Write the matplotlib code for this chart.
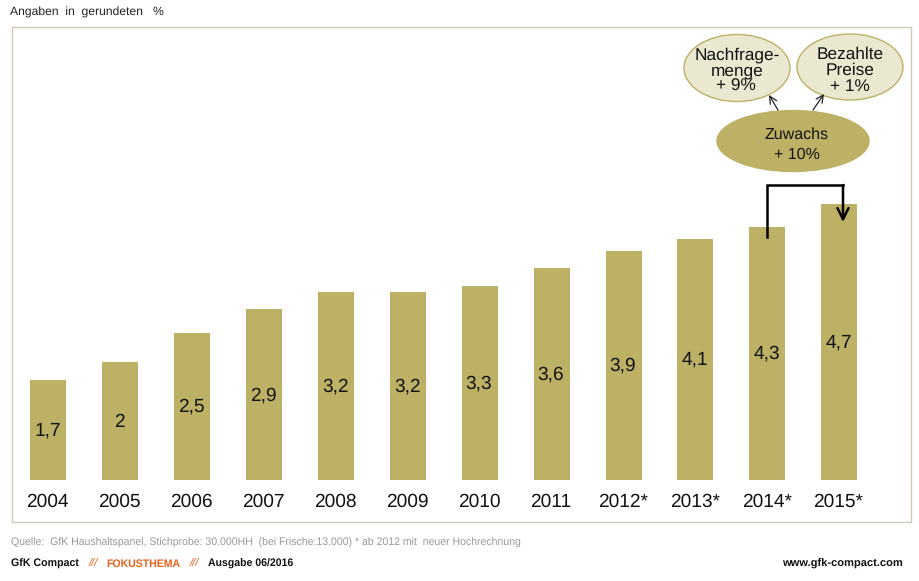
import matplotlib
matplotlib.use('Agg')
import matplotlib.pyplot as plt
from matplotlib.patches import Ellipse, Rectangle

years = ['2004', '2005', '2006', '2007', '2008', '2009', '2010', '2011',
         '2012*', '2013*', '2014*', '2015*']
values = [1.7, 2.0, 2.5, 2.9, 3.2, 3.2, 3.3, 3.6, 3.9, 4.1, 4.3, 4.7]
value_labels = ['1,7', '2', '2,5', '2,9', '3,2', '3,2', '3,3', '3,6', '3,9', '4,1', '4,3', '4,7']

W, H = 919, 581
BAR = '#bcb165'
LIGHT = '#ebe8d2'
FRAME = '#d2c9bc'
ORANGE = '#e8601c'
INK = '#111111'

plt.rcParams['font.family'] = ['Liberation Sans', 'DejaVu Sans']
plt.rcParams['text.hinting'] = 'no_hinting'

fig = plt.figure(figsize=(W / 100, H / 100), dpi=100)

# frame behind everything
back = fig.add_axes([0, 0, 1, 1])
back.set_xlim(0, W)
back.set_ylim(H, 0)
back.axis('off')
back.add_patch(Rectangle((11.5, 26.5), 899.5, 495, fc='white', ec=FRAME, lw=1))

# chart axes sit inside the frame
ax = fig.add_axes([12 / W, 1 - 521 / H, 899 / W, 495 / H])
ax.patch.set_alpha(0)
step = 71.9
first = 48.3
ax.set_xlim((12 - first) / step, (911 - first) / step)
scale = 276.5 / 4.7
ax.set_ylim(-41 / scale, 454 / scale)
ax.bar(range(len(values)), values, width=36 / step, color=BAR)
for i, v in enumerate(values):
    ax.text(i - 0.01, v / 2 - 0.5 / scale, value_labels[i], ha='center', va='center', fontsize=13.8, color=INK)
    ax.text(i - 0.01, -27 / scale, years[i], ha='center', va='baseline', fontsize=13.8, color=INK)
ax.axis('off')

# notes and footer in pixel coords
over = fig.add_axes([0, 0, 1, 1])
over.set_xlim(0, W)
over.set_ylim(H, 0)
over.axis('off')
over.patch.set_alpha(0)

over.text(10, 16, 'Angaben  in  gerundeten   %', fontsize=8.7, va='baseline', color='#222222')

over.add_patch(Ellipse((737, 68), 106, 67, fc=LIGHT, ec=BAR, lw=1))
over.add_patch(Ellipse((850, 67), 106, 66, fc=LIGHT, ec=BAR, lw=1))
over.add_patch(Ellipse((793, 141), 152, 61, fc=BAR, ec=BAR, lw=1))
over.text(737, 59, 'Nachfrage-', ha='center', va='baseline', fontsize=12.4, color=INK)
over.text(737, 75, 'menge', ha='center', va='baseline', fontsize=12.4, color=INK)
over.text(736, 91, '+ 9%', ha='center', va='baseline', fontsize=12.4, color=INK)
over.text(850, 59, 'Bezahlte', ha='center', va='baseline', fontsize=12.4, color=INK)
over.text(850, 75, 'Preise', ha='center', va='baseline', fontsize=12.4, color=INK)
over.text(850, 91, '+ 1%', ha='center', va='baseline', fontsize=12.4, color=INK)
over.text(797, 139, 'Zuwachs', ha='center', va='baseline', fontsize=11.5, color=INK)
over.text(797, 159, '+ 10%', ha='center', va='baseline', fontsize=11.5, color=INK)

# thin arrows up to the small ellipses
over.annotate('', xy=(769, 95), xytext=(778, 110),
              arrowprops=dict(arrowstyle='->', lw=0.9, color='#222222', shrinkA=0, shrinkB=0, mutation_scale=13))
over.annotate('', xy=(824, 94), xytext=(813, 110),
              arrowprops=dict(arrowstyle='->', lw=0.9, color='#222222', shrinkA=0, shrinkB=0, mutation_scale=13))

# bracket from 2014 to 2015
over.plot([767, 767, 843], [237, 185, 185], color='black', lw=1.8, solid_joinstyle='miter')
over.annotate('', xy=(843, 222), xytext=(843, 185),
              arrowprops=dict(arrowstyle='->', lw=1.8, color='black', shrinkA=0, shrinkB=0, mutation_scale=20))

# footer
over.text(11, 546, 'Quelle:  GfK Haushaltspanel, Stichprobe: 30.000HH  (bei Frische:13.000) * ab 2012 mit  neuer Hochrechnung',
          fontsize=7.6, va='baseline', color='#999999')
over.text(11, 567, 'GfK Compact', fontsize=7.7, fontweight='bold', va='baseline', color=INK)
over.text(89, 567, '///', fontsize=8, style='italic', va='baseline', color=ORANGE)
over.text(106, 567, 'FOKUSTHEMA', fontsize=7.6, fontweight='bold', va='baseline', color=ORANGE)
over.text(190, 567, '///', fontsize=8, style='italic', va='baseline', color=ORANGE)
over.text(208, 567, 'Ausgabe 06/2016', fontsize=7.6, fontweight='bold', va='baseline', color=INK)
over.text(903, 567, 'www.gfk-compact.com', fontsize=8, fontweight='bold', ha='right', va='baseline', color=INK)

fig.savefig('out.png', dpi=100)
